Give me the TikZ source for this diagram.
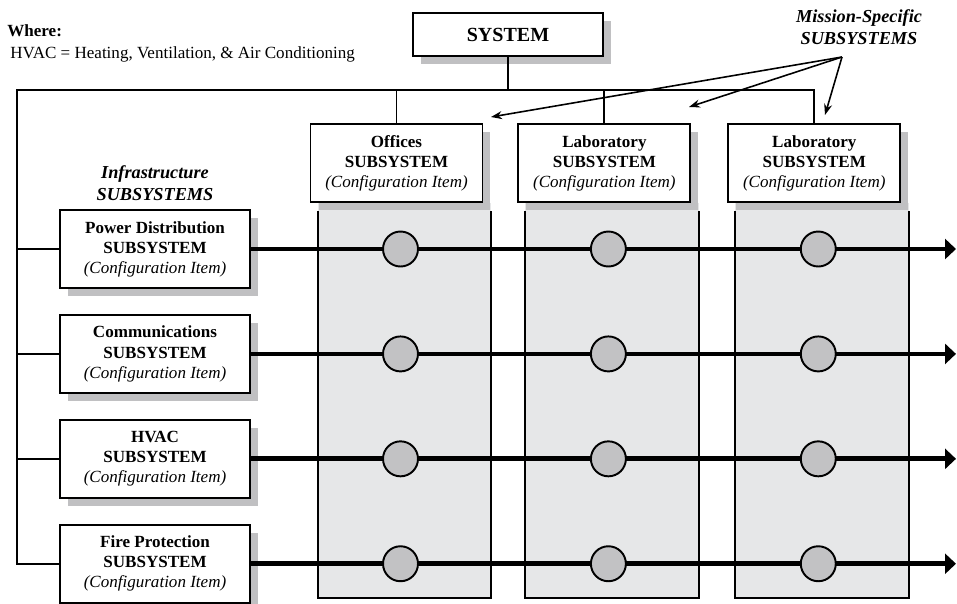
\documentclass[tikz,border=0pt]{standalone}
\usepackage{fontspec}
\setmainfont{Liberation Serif}
\usetikzlibrary{positioning,arrows.meta,shadows,backgrounds}
\definecolor{shadowGray}{RGB}{192,192,194}
\definecolor{columnGray}{RGB}{230,231,232}
\definecolor{jointGray}{RGB}{194,194,196}
\newcommand{\cfgItem}{\textit{(Configuration Item)}}
\newcommand{\subWidth}{3.8cm}
\newcommand{\colWidth}{3.44cm}
\newcommand{\txtSize}{\fontsize{9.7}{11.4}\selectfont}

\begin{document}
\begin{tikzpicture}[x=0.02cm, y=-0.02cm, every node/.style={font=\txtSize},
	box/.style={draw, line width=1.1pt, fill=white, align=center, minimum height=1.56cm, inner sep=2pt,
		drop shadow={shadow xshift=0.16cm, shadow yshift=-0.16cm, fill=shadowGray, opacity=1}},
	infra/.style={box, minimum width=\subWidth},
	mission/.style={box, minimum width=\colWidth},
	label/.style={align=center, inner sep=0pt, font=\fontsize{10.4}{12.2}\selectfont\bfseries\itshape},
	link/.style={line width=1.1pt},
	flow/.style={line width=2.7pt, -{Triangle[length=0.22cm, width=0.4cm]}},
	pointer/.style={line width=0.9pt, -{Stealth[length=0.22cm, width=0.16cm]}},
	joint/.style={circle, draw, line width=1.1pt, fill=jointGray, minimum size=0.7cm, inner sep=0pt}]
	\useasboundingbox (0,0) rectangle (957,603);

	\node[anchor=west, inner sep=0pt, font=\txtSize\bfseries] (where) at (7,31) {Where:};
	\node[anchor=west, inner sep=0pt] (hvacNote) at (10,54) {HVAC = Heating, Ventilation, \& Air Conditioning};

	\node[box, minimum width=3.8cm, minimum height=0.86cm, font=\fontsize{11.4}{13}\selectfont\bfseries] (sys) at (508,34.5) {SYSTEM};

	%mission-specific subsystems
	\node[mission] (off) at (396.5,163) {\textbf{Offices}\\\textbf{SUBSYSTEM}\\\cfgItem};
	\node[mission, right=0.68cm of off] (labA) {\textbf{Laboratory}\\\textbf{SUBSYSTEM}\\\cfgItem};
	\node[mission, right=0.72cm of labA] (labB) {\textbf{Laboratory}\\\textbf{SUBSYSTEM}\\\cfgItem};
	\node[label] (msLabel) at (859,27) {Mission-Specific\\SUBSYSTEMS};

	%infrastructure subsystems
	\node[label] (infLabel) at (155,183) {Infrastructure\\SUBSYSTEMS};
	\node[infra] (pwr) at (155,249) {\textbf{Power Distribution}\\\textbf{SUBSYSTEM}\\\cfgItem};
	\node[infra, below=0.5cm of pwr] (com) {\textbf{Communications}\\\textbf{SUBSYSTEM}\\\cfgItem};
	\node[infra, below=0.5cm of com] (hvac) {\textbf{HVAC}\\\textbf{SUBSYSTEM}\\\cfgItem};
	\node[infra, below=0.5cm of hvac] (fire) {\textbf{Fire Protection}\\\textbf{SUBSYSTEM}\\\cfgItem};

	\coordinate (busL) at (17,90);
	\coordinate (colBot) at (0,598);
	\coordinate (rEnd) at (956,0);
	\coordinate (msTail) at (842,57);
	\coordinate (msOff) at (491,117);
	\coordinate (msLabA) at (689,107);
	\coordinate (msLabB) at (825,115);

	\begin{pgfonlayer}{background}
		\foreach \c in {off,labA,labB}{
			\fill[columnGray] ([xshift=0.16cm]\c.south west) rectangle ([xshift=0.16cm]\c.south east |- colBot);
			\draw[link] ([shift={(0.16cm,-0.16cm)}]\c.south west) -- ([xshift=0.16cm]\c.south west |- colBot)
				-- ([xshift=0.16cm]\c.south east |- colBot) -- ([shift={(0.16cm,-0.16cm)}]\c.south east);
		}
	\end{pgfonlayer}

	\draw[link] (sys.south) -- (sys.south |- busL);
	\draw[link] (fire.west) -| (busL) -| (labB.north);
	\draw[link] (off.north) -- (off.north |- busL);
	\draw[link] (labA.north) -- (labA.north |- busL);
	\foreach \b in {pwr,com,hvac}
		\draw[link] (\b.west) -- (\b.west -| busL);

	\foreach \r in {pwr,com,hvac,fire}{
		\draw[flow] (\r.east) -- (\r.east -| rEnd);
		\foreach \c in {off,labA,labB}
			\node[joint] (\r-\c) at ([xshift=0.08cm]\r.east -| \c.south) {};
	}

	\draw[pointer] (msTail) -- (msOff);
	\draw[pointer] (msTail) -- (msLabA);
	\draw[pointer] (msTail) -- (msLabB);
\end{tikzpicture}
\end{document}
